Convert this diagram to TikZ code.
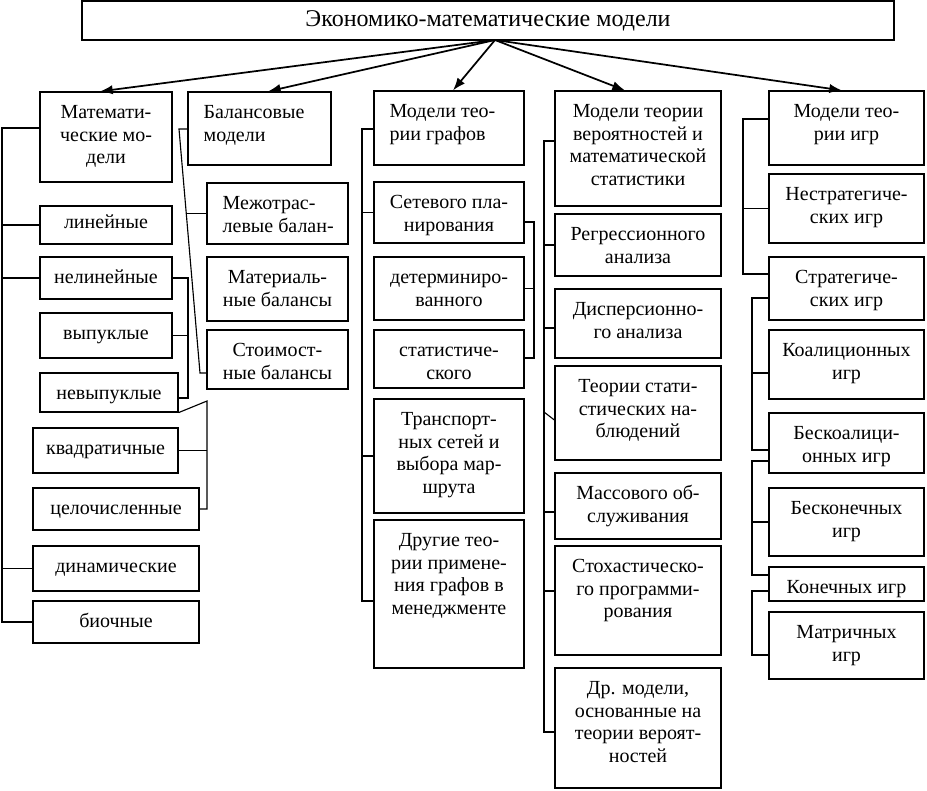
\documentclass[tikz,border=0pt]{standalone}
\usepackage{fontspec}
\setmainfont{Liberation Serif}
\usetikzlibrary{arrows.meta}
\tikzset{
  box/.style={draw, line width=0.9pt, inner sep=0pt},
  txt/.style={align=center, inner sep=0pt, font=\fontsize{15}{16.9}\selectfont},
  conn/.style={line width=0.85pt},
  arr/.style={line width=1.3pt, -{Latex[length=9.5pt,width=7pt]}},
}
\newcommand\mybox[7][]{%
  \node[box, minimum width={(#5-#3)*0.75pt}, minimum height={(#6-#4)*0.75pt}] (#2) at ({(#3+#5)/2},{(#4+#6)/2}) {};
  \node[txt, anchor=north, #1] (#2-t) at ([yshift=-8.5pt]#2.north) {\strut #7};}
\newcommand\myboxL[7][]{%
  \node[box, minimum width={(#5-#3)*0.75pt}, minimum height={(#6-#4)*0.75pt}] (#2) at ({(#3+#5)/2},{(#4+#6)/2}) {};
  \node[txt, align=left, anchor=north west, #1] (#2-t) at ([xshift=12pt,yshift=-8.5pt]#2.north west) {\strut #7};}
\begin{document}
\begin{tikzpicture}[x=0.75pt, y=-0.75pt]
\useasboundingbox (0,0) rectangle (927,790);
% top
\node[box, minimum width={(894-82)*0.75pt}, minimum height={(40-1)*0.75pt}, font=\fontsize{18}{20}\selectfont] (top) at ({(82+894)/2},{(1+40)/2}) {Экономико-математические модели};
\coordinate (o) at (495,40);
% column 1
\mybox{mm}{40}{92}{172}{182}{Математи-\\ческие мо-\\дели}
\mybox[yshift=3pt]{lin}{40}{206}{172}{244}{линейные}
\mybox{nelin}{40}{257}{172}{299}{нелинейные}
\mybox{vyp}{40}{313}{172}{358}{выпуклые}
\mybox{nevyp}{40}{373}{178}{412}{невыпуклые}
\mybox{kvad}{33}{428}{178}{473}{квадратичные}
\mybox{cel}{33}{488}{199}{530}{целочисленные}
\mybox{dyn}{33}{546}{199}{591}{динамические}
\mybox{bio}{33}{601}{199}{643}{биочные}
% column 2
\myboxL{bal}{188}{92}{331}{165}{Балансовые\\модели}
\myboxL{mezh}{207}{183}{348}{244}{Межотрас-\\левые балан-}
\mybox{mat}{207}{257}{348}{321}{Материаль-\\ные балансы}
\mybox{st}{207}{330}{348}{389}{Стоимост-\\ные балансы}
% column 3
\myboxL{graph}{374}{91}{524}{165}{Модели тео-\\рии графов}
\mybox{set}{374}{182}{524}{243}{Сетевого пла-\\нирования}
\mybox{det}{374}{257}{524}{320}{детерминиро-\\ванного}
\mybox{stat}{374}{330}{524}{388}{статистиче-\\ского}
\mybox{trans}{374}{399}{524}{513}{Транспорт-\\ных сетей и\\выбора мар-\\шрута}
\mybox{oth}{374}{520}{524}{668}{Другие тео-\\рии примене-\\ния графов в\\менеджменте}
% column 4
\mybox{prob}{555}{91}{721}{206}{Модели теории\\вероятностей и\\математической\\статистики}
\mybox{regr}{555}{214}{721}{276}{Регрессионного\\анализа}
\mybox{disp}{555}{289}{721}{358}{Дисперсионно-\\го анализа}
\mybox{teor}{555}{366}{721}{460}{Теории стати-\\стических на-\\блюдений}
\mybox{mass}{555}{473}{721}{539}{Массового об-\\служивания}
\mybox{stoh}{555}{546}{721}{655}{Стохастическо-\\го программи-\\рования}
\mybox{dr}{555}{668}{721}{788}{Др. модели,\\основанные на\\теории вероят-\\ностей}
% column 5
\mybox{games}{769}{91}{924}{165}{Модели тео-\\рии игр}
\mybox{nestrat}{769}{174}{924}{243}{Нестратегиче-\\ских игр}
\mybox{strat}{769}{257}{924}{320}{Стратегиче-\\ских игр}
\mybox{koal}{769}{330}{924}{399}{Коалиционных\\игр}
\mybox{bkoal}{769}{413}{924}{473}{Бескоалици-\\онных игр}
\mybox{bkon}{769}{488}{924}{556}{Бесконечных\\игр}
\mybox{kon}{769}{567}{924}{601}{Конечных игр}
\mybox{matr}{769}{612}{924}{679}{Матричных\\игр}
% arrows
\draw[arr] (o) -- (mm.north -| 100,0);
\draw[arr] (o) -- (bal.north -| 268,0);
\draw[arr] (o) -- (graph.north -| 453,0);
\draw[arr] (o) -- (prob.north -| 625,0);
\draw[arr] (o) -- (games.north -| 842,0);
% column 1 connectors
\draw[conn] (mm.west |- 0,128) -- (2,128) -- (2,622) -- (bio.west);
\draw[conn] (lin.west) -- (lin.west -| 2,0);
\draw[conn] (nelin.west) -- (nelin.west -| 2,0);
\draw[conn] (dyn.west) -- (dyn.west -| 2,0);
\draw[conn] (nelin.east) -- (nelin.east -| 188,0) -- (188,398) -- (nevyp.east |- 0,398);
\draw[conn] (vyp.east) -- (vyp.east -| 188,0);
\draw[conn] (nevyp.south east) -- (207,401) -- (207,509) -- (cel.east);
\draw[conn] (kvad.east) -- (kvad.east -| 207,0);
% column 2 connectors
\draw[conn] (bal.west |- 0,129) -- (179,129) -- (200,373) -- (st.west |- 0,373);
\draw[conn] (mezh.west) -- (mezh.west -| bal.west);
% column 3 connectors
\draw[conn] (graph.west |- 0,129) -- (362,129) -- (362,601) -- (oth.west |- 0,601);
\draw[conn] (set.west) -- (set.west -| 362,0);
\draw[conn] (trans.west) -- (trans.west -| 362,0);
\draw[conn] (set.east |- 0,222) -- (534,222) -- (534,358) -- (stat.east |- 0,358);
\draw[conn] (det.east) -- (det.east -| 534,0);
% column 4 connectors
\draw[conn] (prob.west |- 0,141) -- (544,141) -- (544,732) -- (dr.west |- 0,732);
\draw[conn] (regr.west) -- (regr.west -| 544,0);
\draw[conn] (disp.west |- 0,328) -- (544,328);
\draw[conn] (teor.west |- 0,420) -- (544,412);
\draw[conn] (mass.west |- 0,512) -- (544,512);
\draw[conn] (stoh.west |- 0,591) -- (544,591);
% column 5 connectors
\draw[conn] (games.west |- 0,119) -- (743,119) -- (743,274) -- (strat.west |- 0,274);
\draw[conn] (nestrat.west) -- (nestrat.west -| 743,0);
\draw[conn] (strat.west |- 0,298) -- (752,298) -- (752,450) -- (bkoal.west |- 0,450);
\draw[conn] (koal.west |- 0,373) -- (752,373);
\draw[conn] (bkoal.west |- 0,461) -- (752,461) -- (752,575) -- (kon.west |- 0,575);
\draw[conn] (bkon.west) -- (bkon.west -| 752,0);
\draw[conn] (kon.west |- 0,591) -- (752,591) -- (752,655) -- (matr.west |- 0,655);
\end{tikzpicture}
\end{document}
